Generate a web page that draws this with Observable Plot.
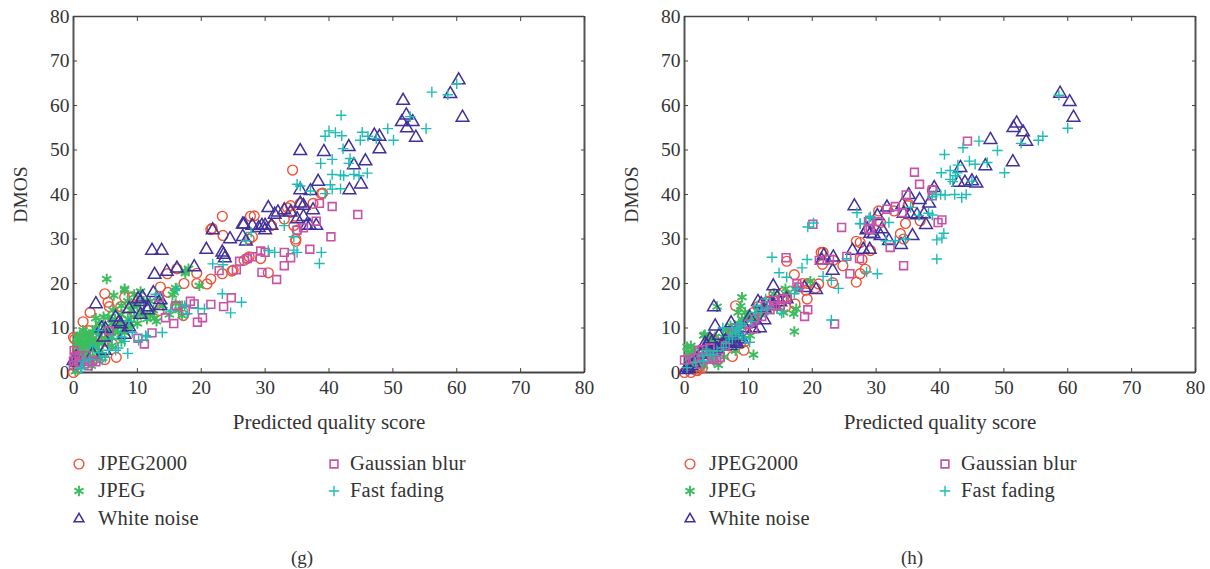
<!DOCTYPE html>
<html><head><meta charset="utf-8">
<script src="https://cdn.jsdelivr.net/npm/d3@7"></script>
<script src="https://cdn.jsdelivr.net/npm/@observablehq/plot@0.6"></script>
<style>
html,body{margin:0;padding:0;background:#fff;overflow:hidden}
#page{position:relative;width:1210px;height:569px;font-family:"Liberation Serif",serif;color:#333}
.panel{position:absolute;top:0;width:605px}
.panel svg{display:block;max-width:none}
.leg{position:absolute;font-size:20.5px;line-height:22px;white-space:nowrap;color:#333;letter-spacing:.2px}
.sw{position:absolute}
.cap{position:absolute;font-size:19px;top:547px;color:#333}
</style></head><body><div id="page"></div>
<script>
const seriesNames = ["JPEG2000","JPEG","White noise","Gaussian blur","Fast fading"];
const seriesColors = ["#ee5237","#3dbd5e","#40309b","#c653a9","#1dbdb5"];
const seriesSymbols = ["circle","asterisk","triangle","square","plus"];
const axisTicks = [0,10,20,30,40,50,60,70,80];

const gJp2k = [[0,7.9],[0,0],[1.5,11.4],[2.6,13.5],[4.9,17.7],[5.4,15.8],[5.6,14.8],[7.4,14.8],[8,16.9],[9.2,17],[8.2,12.4],[6.7,3.4],[4.9,2.9],[1.7,7.9],[2.4,9.4],[3.2,6.4],[3.7,8.6],[0.6,4.9],[6.1,6.4],[13.6,19.2],[14.8,18],[13.4,13.9],[16,15],[17.3,20],[19.3,22.3],[19.3,20],[20.9,19.9],[21.5,21],[23.3,22.2],[24.8,22.8],[27.2,25.6],[26.7,25.2],[17.2,12.8],[14.7,22.2],[16.2,23.3],[21.5,32.1],[21.7,32.4],[23.3,35.1],[23.4,30.8],[27.7,35.1],[27.5,30],[28,30.5],[29.3,25.6],[30.5,22.4],[33.5,37],[34,37.5],[34.3,45.5],[34.5,33],[35,32],[34.8,30],[34.8,29.5],[37.5,38],[39,40.3],[35.5,38],[25,23],[27.5,26],[31,33],[33,34.5],[38.8,40.2],[34,36],[0.2,7.5],[3,6],[2,5],[5,7],[1,3],[4.2,3.3],[28.3,35.2]];
const gJpeg = [[5.2,21],[6.3,17.3],[8,18.8],[8,18.5],[10.5,18.2],[9.2,15],[3.5,12.2],[12,13],[11,13.2],[17.5,22.8],[18,23.3],[17.5,22.3],[19.7,19.5],[16,19],[15.8,18],[15.5,17.5],[12.7,12.2],[6,11],[7,9],[7.5,7],[6,6],[4,8.5],[3,9],[2,9],[1,7],[1,6.5],[0.5,6.5],[1.5,8],[2,7],[2.5,6],[3,5],[3.2,3],[2.8,1.5],[1.5,2.5],[0.3,0.3],[0.8,4],[4.5,6.5],[5,7.5],[5.5,9],[6.5,12],[7.5,13],[8.5,12],[9,14],[10,15],[10.5,13],[11,16],[7.5,11],[8.5,10],[4,5],[3.5,7],[14,15],[16.5,14],[17,12.8],[17,15],[5,10],[2,4.5],[1.2,5],[0.6,8],[1,8.5],[1.5,9.5],[2,8.5],[2.5,8],[3,7.5],[0.8,7.5],[1.3,6],[1.8,5.5],[2.2,6.5],[2.8,7],[3.4,6],[0.7,5.5],[1.1,3.5],[1.6,4],[2.4,3.5],[3,2.5],[3.8,3.5],[4.5,4],[6,8],[6.5,9.5],[7,10.5],[8,9],[9,11],[9.5,12.5],[10,11],[11.5,12],[12.5,14],[13,11.5],[3.5,10],[4,11],[4.7,12.5],[5.5,12.5],[6.2,14],[7.5,15],[8.5,16],[9.5,17.5],[12,16],[13.5,16.5],[15,13],[16,15.5]];
const gNoise = [[3.5,15.4],[12.3,27.4],[13.8,27.4],[20.8,27.6],[23.3,27],[23.7,25.7],[26.7,33.3],[26.5,30.5],[21.8,32],[12.7,22],[14.6,22.7],[16.2,23.4],[18.9,23.7],[12.5,17.9],[10.1,16.5],[10.8,16.9],[10.5,15.9],[11.7,14.7],[11.6,14],[13.6,15],[13.6,16.3],[8.7,14.3],[10.5,13],[6.6,12.4],[7.1,11.3],[8.7,10.2],[8,8.5],[4.4,10],[5,9.8],[4.7,7.9],[4.9,4.9],[3,4.1],[0,2.6],[0.4,2.3],[0.4,3.4],[7.4,10.9],[60.3,65.7],[59,62.6],[60.9,57.3],[51.6,61.1],[52.1,57.8],[51.4,56.3],[53.1,56.3],[52.2,54.9],[53.6,52.8],[47.1,53.3],[47.9,53],[47.9,50.2],[43.1,50.7],[39.2,49.6],[45.7,47.5],[43.9,46.6],[38.3,42.9],[45,42.3],[43.2,41],[35.5,49.8],[37.1,40.8],[35.5,41],[28,33],[26.5,33.3],[29,32.5],[30,33],[30.5,37],[31.5,35.5],[32,36],[30,32],[29.5,33],[31,33],[33,36.5],[34,36],[35.5,38],[36,37.5],[36,35],[35,34.5],[36.5,33],[37.5,36.5],[37,33],[38,33],[27,29.5],[24.5,30],[23.5,26.5]];
const gBlur = [[0.1,4.9],[0,2.6],[1,2.3],[2.3,1.5],[1.7,2],[3.5,2.4],[3,2.6],[5.6,9.4],[10.1,7.7],[11.1,6.4],[12.3,8.9],[14.4,12.3],[15.7,11],[13.4,16.9],[16.1,15],[17.5,13.9],[18.3,16],[18.9,15.4],[20.2,12.3],[19.4,11.3],[21.5,15.3],[23.5,14.8],[24.7,16.8],[22.8,22.9],[25.5,23.1],[26,25],[27.2,25.6],[31.8,20.9],[29.5,22.5],[33,24],[34,25.8],[33,27],[29.3,27.3],[28,26],[37,27.7],[40.3,30.5],[44.5,35.5],[40.5,37.3],[38.5,38],[36,32.5],[35,32],[38,34],[30,27],[0.3,3.5],[0.9,3.8],[2,3.8],[2.5,2.5],[0,1.5]];
const gFade = [[60,64.9],[56.1,63],[58.6,62.4],[41.9,57.8],[52.7,57.5],[49.2,54.8],[55.2,54.8],[50.1,52.2],[40,54.3],[41,53.9],[39.4,53.1],[42,53.2],[45.2,54],[46.1,53.1],[44.9,52.2],[47.4,52.6],[42.2,50.3],[40.5,47.9],[38.7,47],[43.3,48.1],[43.1,47],[40.5,44.5],[41.8,44.4],[42.3,44.2],[43.9,44.5],[44.7,44.2],[46,44.8],[40.2,42.2],[40.5,41.2],[41.8,41.3],[39.4,40.2],[37.1,40.8],[35.5,41.9],[35,42.3],[34.5,30.5],[35,27],[38.8,27],[38.5,24.5],[24.6,13.4],[26.3,15.8],[23.3,17.7],[21.8,24.4],[23.4,24.2],[27,29.6],[27.8,31.5],[16.2,18.9],[12.9,17.6],[15.2,13.8],[17.4,15],[17.8,13.2],[19.5,14.4],[20.5,14.3],[13.9,9],[11.5,8],[9.2,9],[8.5,4.3],[6.6,5],[5,3.4],[3,5.9],[1.3,1],[8.7,11.5],[30.5,27.4],[33,33],[31.5,27],[34.5,27.5],[1.5,2.5],[2.5,3],[4,4.5],[4.5,2.8],[5.5,5],[7,5.5],[6,7.5],[7.5,8],[8,7],[11.3,8.3],[10.2,7.2],[3.9,9.4],[1.1,0.9]];

const hJp2k = [[8,15],[16,25],[17.2,22],[15.8,14.7],[19.2,16.5],[17.3,15.4],[19.3,20],[21,19.9],[23.2,20.2],[21.4,27],[21.7,27],[21.6,24.3],[23.3,25.2],[24.8,24],[26.9,29.5],[26.9,20.3],[27.5,22.2],[28.3,23.2],[27.8,25.4],[9.3,5],[7.5,3.6],[4.6,7.5],[4,7.5],[2,0.4],[1,0],[0,0],[2.5,1.5],[10.8,13.5],[13.2,15.8],[10,10.9],[8.2,7.9],[5.6,5.6],[14,17.7],[15.5,16.5],[3,2.6],[34.6,33.5],[33.8,31.2],[34.3,30],[36.9,34.1],[32.8,36.3],[30.4,36.3],[35.1,37.8],[30.7,33.7],[29.1,27.4],[27.5,29.2],[38.8,41],[35,37.5],[1.5,1],[3,3],[6,6],[7,6],[8.8,6.5],[9.5,7],[12,14],[11.5,14.8],[13,16],[19,18.5],[20.5,19],[2.8,1],[1.8,0.5],[16,17],[18.5,20],[15.5,18]];
const hJpeg = [[9,16.9],[8.8,14.9],[5.1,14.8],[15.8,18.8],[17.2,9.2],[19.7,20.5],[17.3,18.8],[17.1,13.2],[17.5,14.3],[10.8,4],[5.3,1.7],[14,17.7],[9,12],[10.3,12.4],[7.4,9.4],[6.7,9],[10.3,8.3],[3,8.3],[0.4,5.8],[1,4.5],[1.5,3.4],[3,5.6],[3.5,4.1],[4.6,2.6],[5.9,5.6],[6.7,6.8],[7.7,7.9],[8,4.9],[8.8,10.2],[4.6,6.4],[1,1.9],[2.2,2.3],[11.1,12.8],[1,6],[0.6,4.5],[1.4,5],[2,4],[2.5,3],[3.2,8.5],[3.8,7.5],[4.2,7],[4.8,8],[5.5,6.5],[6,8],[6.5,9.5],[7.2,10.5],[8,9],[8.5,11],[9.5,11],[9.8,12.8],[11.2,11.5],[12,13],[2,1.5],[3,1.5],[4.2,4],[3.8,5.5],[0.8,3],[5,4],[6.2,3.5],[7,6],[8.4,13.5],[9.5,13.5],[13,14],[14.5,14.5],[15.5,13.5],[16,17.5]];
const hNoise = [[26.6,37.4],[4.6,14.7],[4.8,10.4],[7.3,11.1],[13.9,19.4],[11.5,15.9],[12,15.4],[10.2,12.4],[12.5,11.8],[11.8,10],[10.8,9.8],[14.5,16.8],[15,15.8],[16,16.5],[18.8,19],[20.6,18.6],[21.8,26.3],[23.3,25.9],[21.5,25.2],[23.2,22.9],[26.3,27.4],[28,27.6],[28.5,32],[29,27.6],[8.5,8.1],[8.5,7.5],[7.7,6.8],[6.4,7.1],[5.4,8.3],[4.3,6.8],[3.5,6],[4.6,4.9],[5.1,5.3],[0.2,0.6],[0.4,1.1],[0.7,0.8],[6.9,6.8],[58.8,62.7],[60.3,60.8],[60.9,57.3],[52,56],[51.5,55],[53,54],[53.5,51.9],[47.9,52.3],[51.4,47.3],[43.2,46],[47.1,46.4],[42.9,42.7],[43.9,42.7],[45,43],[45.7,42.5],[39.1,41.5],[35.1,39.9],[36.8,38.8],[38.3,38],[34.1,37.7],[37.8,33.2],[35.7,30.7],[30.2,35.2],[28.6,32.2],[29.6,31.1],[30.9,32.2],[30.7,30.7],[32,29.6],[33.9,28.7],[35.4,35.6],[34.3,35.7],[36.4,35.4],[37.5,35.6],[31.7,37.1],[29.1,31.2],[1,1.5],[1.5,2],[2,3],[2.5,4],[3,5],[5.8,6],[6.3,6.5],[7.2,6],[8,7],[8.2,6.5],[9,7.5],[9.5,10],[10.2,11],[12.5,14.5],[13.5,15.5],[14,15],[3.2,6.5],[4,7.5]];
const hBlur = [[44.3,52],[36,45],[36.8,42.3],[38.8,41],[34.7,39.9],[38.8,39.7],[40.3,34.3],[39.7,33.7],[33,37.3],[31.7,36.7],[34.1,35.9],[28.8,33.9],[30.4,33.9],[29.1,32.2],[32.2,28.1],[34.3,24],[23.5,10.9],[20.1,33.3],[24.6,32.6],[15.9,25.8],[21.1,25.2],[22.7,25.4],[25.4,26.1],[27.4,25.6],[29,34.2],[28.8,32.3],[17.6,20],[25.9,22.2],[19.3,14.1],[18.8,12.6],[16,16.7],[15.4,16.5],[12.1,12.6],[13.4,14.1],[14.2,15],[10.8,9.8],[10,10.9],[2.2,5],[0,2.8],[0.9,2.9],[3,3],[5.5,3.4],[4.6,3],[6.4,6],[9,9.4],[17.9,19.2],[2.5,1.9],[1.5,3.2],[2.8,5.2],[3.5,3.2],[4,5.5],[5,2.8],[7.5,9],[8,10],[11,12],[12.7,15],[15,15],[14,16.2]];
const hFade = [[13.7,25.9],[14.8,22.4],[16,21.4],[18.4,23.5],[19.2,25.4],[19.3,32.7],[20.2,33.6],[27,35.9],[27.5,33.5],[28.9,34.7],[21.7,21.6],[23,20.7],[24.1,18.9],[25.4,25.6],[28.5,22.6],[23,11.8],[15.2,13.3],[17.2,17.7],[17.6,18.8],[12.7,16.5],[11.4,15],[10.2,6.8],[8.5,9.4],[8.8,10.5],[2.8,3.8],[5.1,4.9],[1.7,2.3],[6.1,5.6],[7.5,7.5],[0.4,1.1],[3,2.6],[4,4.1],[8.2,10.2],[30.2,22.2],[58.6,62.3],[60,54.9],[56.1,53.1],[55.4,52.2],[52.7,51.5],[49,49.9],[46.1,52],[43.6,50.5],[40.7,49],[44.6,47.5],[45.5,46.8],[47.4,47.2],[50.1,44.9],[42.8,46.6],[40.2,44.9],[41.6,45.4],[42.7,44.9],[42.4,44.2],[41.6,43.4],[42,42.9],[45,43],[42.3,40],[44.1,40],[43.4,39.3],[40.8,39.9],[40.1,40],[39.4,40],[38.8,39.5],[38.2,35.8],[38.8,35.4],[36.7,35.3],[32,33.7],[35.4,37.1],[40.6,31.3],[40.3,30.2],[39.5,29.8],[34.6,30],[33,29.6],[31.5,29.6],[29.1,35],[27.5,33.4],[39.5,25.5],[6.5,6.5],[7,8],[8,9],[9,8],[9.5,7.5],[9,11],[10.5,11.5],[11,13.5],[3.5,5],[4.5,4],[12,14],[13,14.5],[6,10],[7.5,10],[8.5,8.5]];

const radii = [4.9,5,4.7,4.4,3.5];
const strokes = [1.4,1.9,1.5,1.6,1.4];

const page = document.getElementById("page");

function panel(left, caption, capLeft, sets){
  const marks = [];
  sets.forEach((d,i)=>marks.push(Plot.dot(d,{x:p=>p[0],y:p=>p[1],symbol:()=>seriesSymbols[i],r:radii[i],
    stroke:seriesColors[i],strokeWidth:strokes[i],fill:seriesSymbols[i]==="asterisk"?seriesColors[i]:"none"})));
  const fig = Plot.plot({
    width:605,height:440,marginLeft:73,marginRight:21,marginTop:16,marginBottom:68,
    style:{fontFamily:'"Liberation Serif",serif',fontSize:"19.5px",color:"#333",background:"#fff",overflow:"visible",maxWidth:"none"},
    x:{domain:[0,80],ticks:axisTicks},
    y:{domain:[0,80],ticks:axisTicks},
    symbol:{type:"identity"},
    marks:[
      Plot.ruleX([0,80],{stroke:"#555",strokeWidth:2}),
      Plot.ruleY([0],{stroke:"#444",strokeWidth:2}),
      Plot.ruleY([80],{stroke:"#444",strokeWidth:1.4}),
      Plot.axisX({anchor:"bottom",ticks:axisTicks,tickSize:-4,tickPadding:12,stroke:"#444",tickFormat:d=>String(d),label:null}),
      Plot.axisX({anchor:"bottom",ticks:[],label:"Predicted quality score",labelAnchor:"center",labelArrow:"none",labelOffset:56,fontSize:21}),
      Plot.axisX({anchor:"top",ticks:axisTicks,tickSize:-4,tickFormat:()=>"",stroke:"#444",label:null}),
      Plot.axisY({anchor:"left",ticks:axisTicks,tickSize:-4,tickPadding:8,stroke:"#444",label:"DMOS",labelAnchor:"center",labelArrow:"none",labelOffset:60,fontSize:19.5}),
      Plot.axisY({anchor:"right",ticks:axisTicks,tickSize:-4,tickFormat:()=>"",stroke:"#444",label:null}),
      ...marks
    ]
  });
  const wrap = document.createElement("div");
  wrap.className="panel"; wrap.style.left=left+"px"; wrap.appendChild(fig);
  page.appendChild(wrap);

  const slots=[[79,464],[79,491],[79,519],[334,464],[334,491]];
  seriesNames.forEach((n,i)=>{
    const [sx,sy]=slots[i];
    const svg=d3.select(page).append("svg").attr("class","sw").attr("width",20).attr("height",20)
      .style("left",(left+sx-10)+"px").style("top",(sy-10)+"px");
    const types={circle:d3.symbolCircle,asterisk:d3.symbolAsterisk,triangle:d3.symbolTriangle2,square:d3.symbolSquare,plus:d3.symbolPlus};
    const r=radii[i];
    svg.append("path").attr("transform","translate(10,10)")
      .attr("d",d3.symbol(types[seriesSymbols[i]],Math.PI*r*r)())
      .attr("stroke",seriesColors[i]).attr("stroke-width",strokes[i])
      .attr("fill",seriesSymbols[i]==="asterisk"?seriesColors[i]:"none");
    const t=document.createElement("div");
    t.className="leg"; t.textContent=n;
    t.style.left=(left+(i<3?98:350))+"px"; t.style.top=(sy-12)+"px";
    page.appendChild(t);
  });
  const c=document.createElement("div");
  c.className="cap"; c.textContent=caption; c.style.left=capLeft+"px";
  page.appendChild(c);
}
panel(0,"(g)",291,[gJp2k,gJpeg,gNoise,gBlur,gFade]);
panel(611,"(h)",901,[hJp2k,hJpeg,hNoise,hBlur,hFade]);
</script></body></html>
